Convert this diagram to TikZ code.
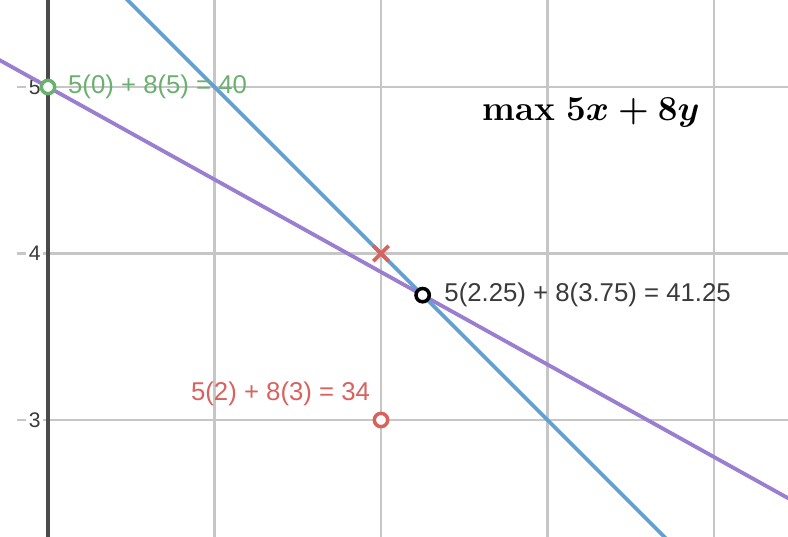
\documentclass[tikz,border=0pt]{standalone}
\usepackage{fontspec}
\setsansfont{Liberation Sans}
\usetikzlibrary{positioning,shapes.misc}
\definecolor{lpblue}{HTML}{629FD3}
\definecolor{lppurple}{HTML}{9A7ECF}
\definecolor{lpgreen}{HTML}{6AB06E}
\definecolor{lpred}{HTML}{D8625E}
\definecolor{gridc}{HTML}{C6C6C6}
\definecolor{axisc}{HTML}{4A4A4A}
\definecolor{ink}{HTML}{3A3A3A}
\tikzset{
  gridline/.style={draw=gridc, line width=0.8pt},
  axisline/.style={draw=axisc, line width=1.1pt},
  cons/.style  ={line width=1.3pt},
  sol/.style   ={circle, draw, line width=1.2pt, fill=white, inner sep=0pt,
                 minimum size=1.6mm},
  infeas/.style={cross out, draw=lpred, line width=1.3pt, inner sep=0pt,
                 minimum size=1.4mm},
  val/.style   ={font=\sffamily\fontsize{8.8}{10}\selectfont, inner sep=1pt},
  ticklbl/.style={font=\sffamily\fontsize{7.2}{8}\selectfont, text=ink,
                 fill=white, inner sep=1pt},
  objlbl/.style={font=\fontsize{12}{14}\selectfont\boldmath},
}
\newcommand{\objtext}{$\mathbf{max}\;5x+8y$}
\begin{document}
\begin{tikzpicture}[x=2cm,y=2cm]
    \useasboundingbox (-0.2883,2.3033) rectangle (4.4444,5.5225);
    \clip (-0.2883,2.3033) rectangle (4.4444,5.5225);
    % grid
    \foreach \gx in {1,...,4} \draw[gridline] (\gx,2.2) -- (\gx,5.6);
    \foreach \gy in {3,4,5} \draw[gridline] (-0.186,\gy) -- (4.5,\gy);
    \draw[axisline] (0,2.2) -- (0,5.6);
    \foreach \gy in {3,4,5} \node[ticklbl] (t\gy) at (-0.08,\gy) {\gy};
    % constraints
    \coordinate (p0) at (-0.4,5.2222);  \coordinate (p1) at (4.6,2.4444);
    \coordinate (b0) at (0.4,5.6);      \coordinate (b1) at (3.8,2.2);
    \draw[cons, lppurple] (p0) -- (p1);
    \draw[cons, lpblue]   (b0) -- (b1);
    % candidate points
    \node[infeas]          (X) at (2,4) {};
    \node[sol, draw=lpgreen] (A) at (0,5) {};
    \node[sol, draw=lpred]   (B) at (2,3) {};
    \node[sol, draw=black]   (C) at (2.25,3.75) {};
    \node[val, text=lpgreen, anchor=west] (lA) at (0.1,5)      {5(0) + 8(5) = 40};
    \node[val, text=lpred,   anchor=east] (lB) at (1.955,3.16) {5(2) + 8(3) = 34};
    \node[val, text=ink,     anchor=west] (lC) at (2.36,3.75)  {5(2.25) + 8(3.75) = 41.25};
    \node[objlbl] (obj) at (3.26,4.845) {\objtext};
  \end{tikzpicture}
\end{document}
